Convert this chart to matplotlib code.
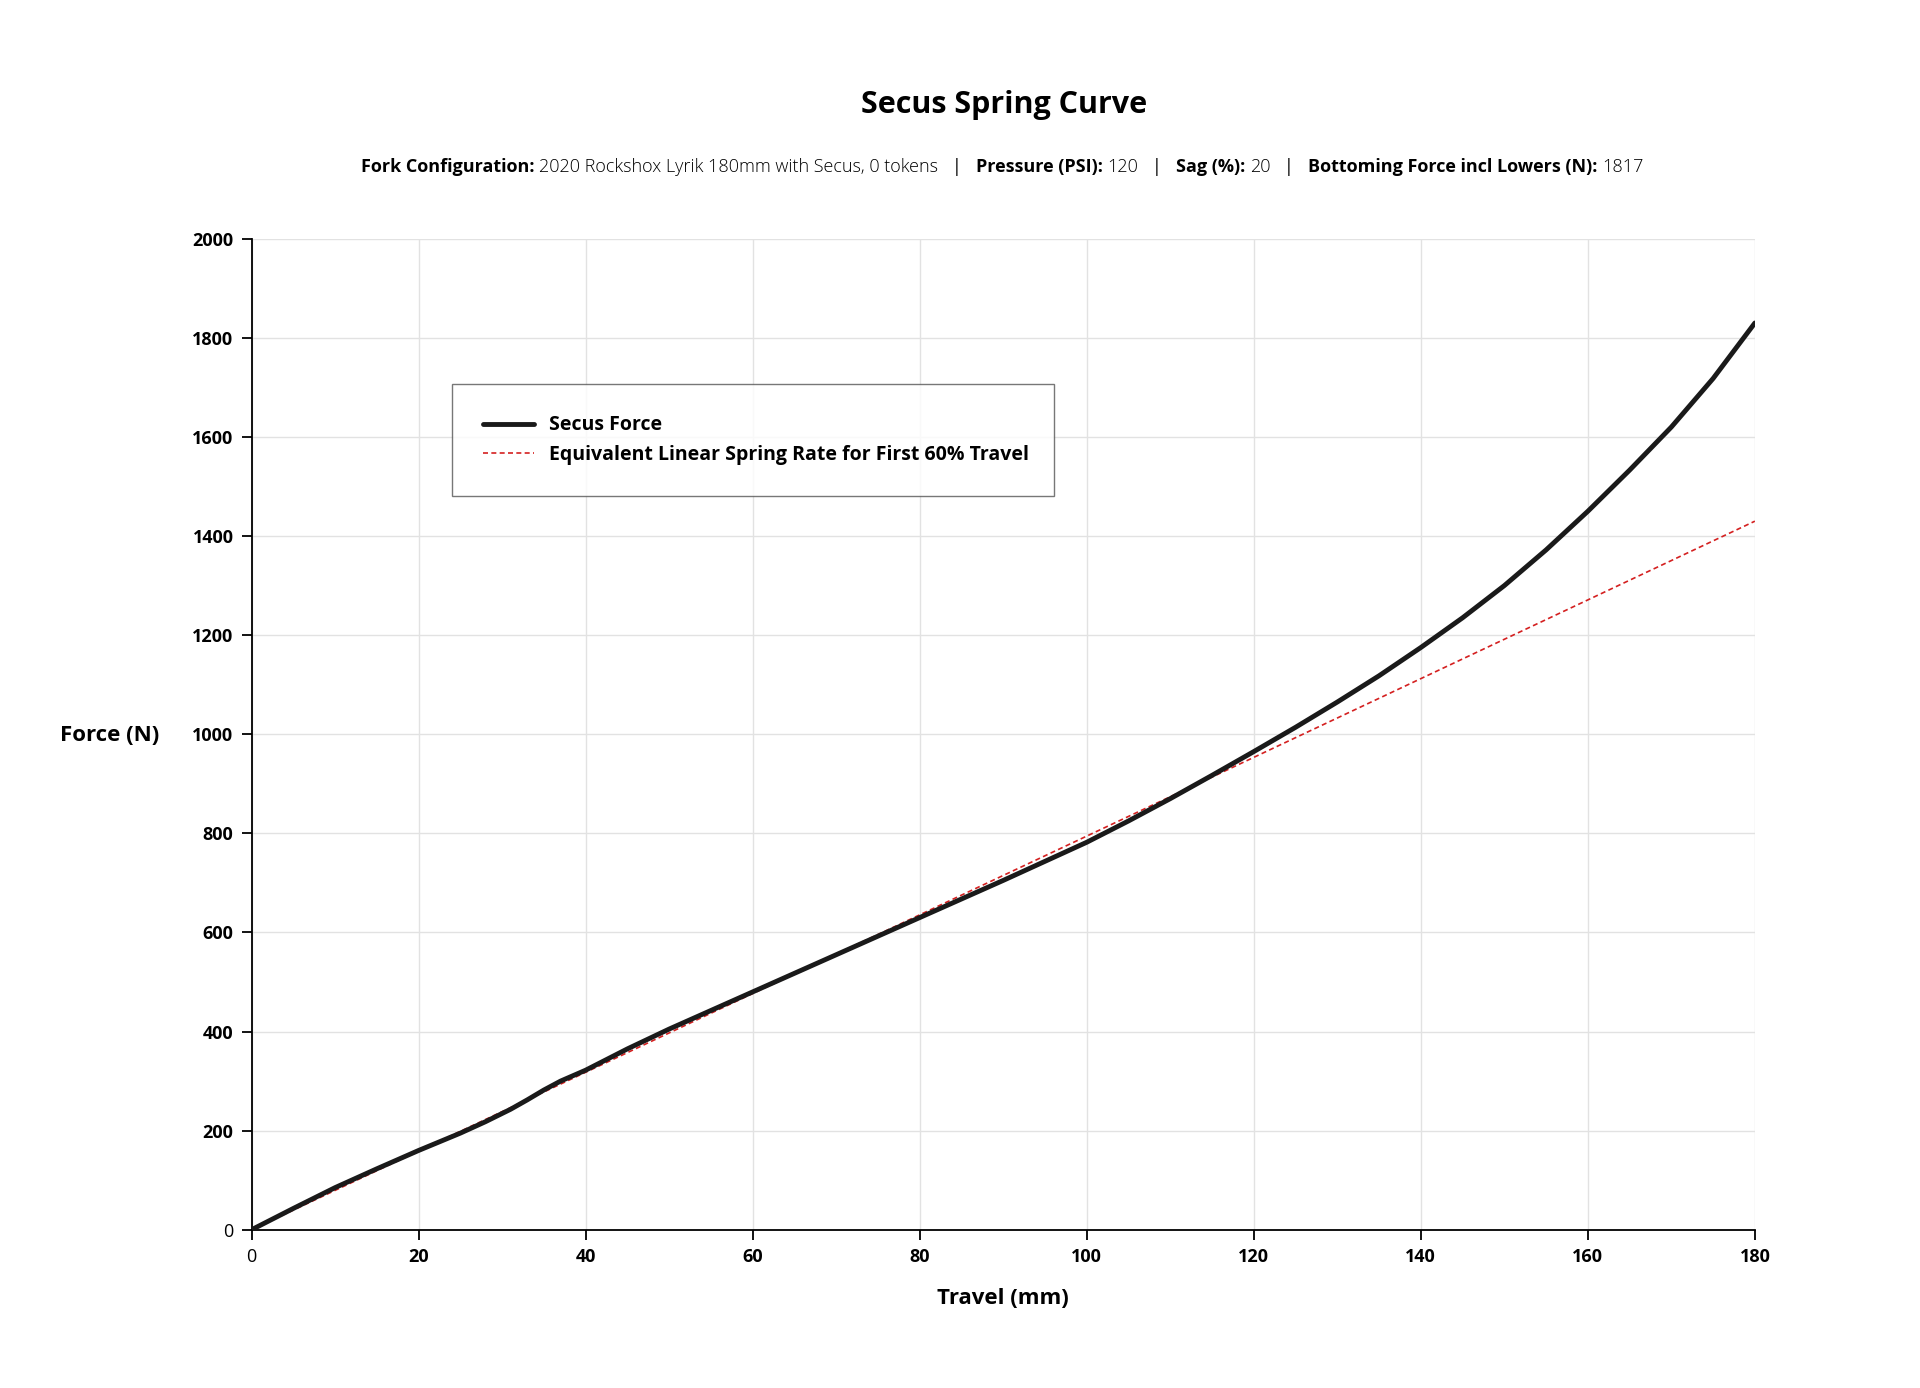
import matplotlib
matplotlib.use("Agg")
import matplotlib.pyplot as plt
import numpy as np

plt.rcParams["font.family"] = "Open Sans"

travel = [0, 5, 10, 15, 20, 25, 28, 31, 33, 35, 37, 40, 45, 50, 60, 70, 80, 90, 100,
          105, 110, 115, 120, 125, 130, 135, 140, 145, 150, 155, 160, 165, 170, 175, 180]
force = [0, 43, 85, 123, 160, 195, 218, 243, 262, 282, 300, 322, 365, 405, 480, 555,
         630, 705, 782, 825, 870, 917, 965, 1014, 1065, 1118, 1175, 1235, 1300, 1372,
         1450, 1533, 1620, 1718, 1830]
linear_x = [0, 180]
linear_y = [0, 1430]

fig = plt.figure(figsize=(19.2, 13.88), dpi=100)
ax = fig.add_axes([0.131, 0.114, 0.783, 0.714])

ax.plot(travel, force, color="#1a1a1a", lw=3.5, label="Secus Force", zorder=3,
        solid_capstyle="round", solid_joinstyle="round")
ax.plot(linear_x, linear_y, color="#d42020", lw=1.2, ls=(0, (3, 2)),
        label="Equivalent Linear Spring Rate for First 60% Travel", zorder=2)

ax.set_xlim(0, 180)
ax.set_ylim(0, 2000)
ax.set_xticks(np.arange(0, 181, 20))
ax.set_yticks(np.arange(0, 2001, 200))
ax.grid(color="#e2e2e2", lw=1)
for s in ["top", "right"]:
    ax.spines[s].set_visible(False)
ax.spines["left"].set_linewidth(1.3)
ax.spines["bottom"].set_linewidth(1.3)
ax.tick_params(length=7, width=1.3, labelsize=13, pad=6)
for lab in ax.get_xticklabels()[1:] + ax.get_yticklabels()[1:]:
    lab.set_fontweight("bold")

ax.set_xlabel("Travel (mm)", fontsize=16, fontweight="bold", labelpad=16)
fig.text(0.057, 0.47, "Force (N)", fontsize=16, fontweight="bold", ha="center", va="center")

leg = ax.legend(loc="upper left", bbox_to_anchor=(0.127, 0.736, 0.413, 0.127),
                mode="expand", fontsize=14, frameon=True, fancybox=False,
                borderpad=1.6, handlelength=2.6, edgecolor="#555555")
for t in leg.get_texts():
    t.set_fontweight("bold")

fig.text(0.523, 0.924, "Secus Spring Curve", fontsize=22, fontweight="bold",
         ha="center", va="center")

parts = [("Fork Configuration: ", "bold"), ("2020 Rockshox Lyrik 180mm with Secus, 0 tokens", "light"),
         ("   |   ", "normal"), ("Pressure (PSI): ", "bold"), ("120", "light"),
         ("   |   ", "normal"), ("Sag (%): ", "bold"), ("20", "light"),
         ("   |   ", "normal"), ("Bottoming Force incl Lowers (N): ", "bold"), ("1817", "light")]
fig.canvas.draw()
r = fig.canvas.get_renderer()
texts = [fig.text(0, 0.88, s, fontsize=13, fontweight=w, va="center") for s, w in parts]
widths = [t.get_window_extent(r).width / fig.bbox.width for t in texts]
x = 0.522 - sum(widths) / 2
for t, w in zip(texts, widths):
    t.set_x(x)
    x += w

fig.savefig("out.png", dpi=100)
